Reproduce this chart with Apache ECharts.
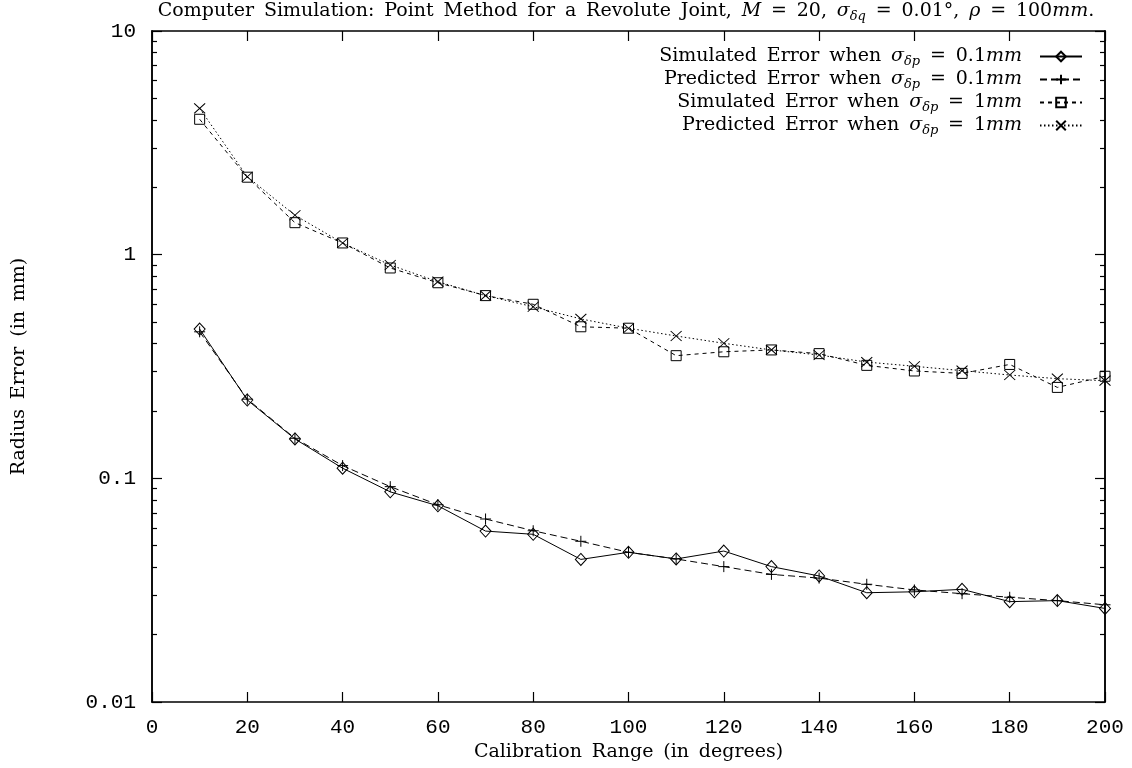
<!DOCTYPE html>
<html>
<head>
<meta charset="utf-8">
<script src="https://cdn.jsdelivr.net/npm/echarts@6/dist/echarts.min.js"></script>
<style>
  html, body { margin: 0; padding: 0; background: #fff; }
  #chart { width: 1132px; height: 768px; }
</style>
</head>
<body>
<div id="chart"></div>
<script>
// ---- data ----
const calibrationRange = [10, 20, 30, 40, 50, 60, 70, 80, 90, 100, 110, 120, 130, 140, 150, 160, 170, 180, 190, 200];
const simulated01 = [0.465, 0.224, 0.150, 0.111, 0.087, 0.0754, 0.0581, 0.0562, 0.0434, 0.0467, 0.0436, 0.0473, 0.0403, 0.0366, 0.0308, 0.0311, 0.0319, 0.0281, 0.0284, 0.0262];
const predicted01 = [0.452, 0.226, 0.151, 0.114, 0.0918, 0.0762, 0.0658, 0.0583, 0.0523, 0.0467, 0.0436, 0.0403, 0.0372, 0.0358, 0.0336, 0.0317, 0.0305, 0.0294, 0.0284, 0.0272];
const simulated1 = [4.03, 2.22, 1.39, 1.128, 0.872, 0.749, 0.656, 0.600, 0.476, 0.469, 0.3535, 0.368, 0.375, 0.361, 0.320, 0.302, 0.2946, 0.323, 0.255, 0.286];
const predicted1 = [4.51, 2.23, 1.50, 1.128, 0.899, 0.757, 0.656, 0.585, 0.516, 0.469, 0.433, 0.4016, 0.375, 0.356, 0.331, 0.317, 0.303, 0.2897, 0.279, 0.2732];
const yMajorTicks = [0.01, 0.1, 1, 10];
const yTickLabels = ['0.01', '0.1', '1', '10'];
const yMinorTicks = [0.02,0.03,0.04,0.05,0.06,0.07,0.08,0.09,0.2,0.3,0.4,0.5,0.6,0.7,0.8,0.9,2,3,4,5,6,7,8,9];
const seriesNames = [
  'Simulated Error when σδp = 0.1mm',
  'Predicted Error when σδp = 0.1mm',
  'Simulated Error when σδp = 1mm',
  'Predicted Error when σδp = 1mm'
];
const S = '\u00a0\u2009';
const legendRich = [
  '{n|Simulated' + S + 'Error' + S + 'when' + S + '}{i|σ}{s|δp}{n|' + S + '=' + S + '0.1}{i|mm}{g|}',
  '{n|Predicted' + S + 'Error' + S + 'when' + S + '}{i|σ}{s|δp}{n|' + S + '=' + S + '0.1}{i|mm}{g|}',
  '{n|Simulated' + S + 'Error' + S + 'when' + S + '}{i|σ}{s|δp}{n|' + S + '=' + S + '1}{i|mm}{g|}',
  '{n|Predicted' + S + 'Error' + S + 'when' + S + '}{i|σ}{s|δp}{n|' + S + '=' + S + '1}{i|mm}{g|}'
];
const titleRich = '{n|Computer' + S + 'Simulation:' + S + 'Point' + S + 'Method' + S + 'for' + S + 'a' + S + 'Revolute' + S + 'Joint,' + S + '}{i|M}{n|' + S + '=' + S + '20,' + S + '}{i|σ}{s|δq}{n|' + S + '=' + S + '0.01°,' + S + '}{i|ρ}{n|' + S + '=' + S + '100}{i|mm}{n|.}';
const xAxisName = 'Calibration' + S + 'Range' + S + '(in' + S + 'degrees)';
const yAxisName = 'Radius' + S + 'Error' + S + '(in' + S + 'mm)';

// ---- styling ----
const SERIF = '"DejaVu Serif", "Liberation Serif", serif';
const MONO = '"Liberation Mono", "DejaVu Sans Mono", monospace';
const FS = 19;
const richStyles = {
  n: { fontFamily: SERIF, fontSize: FS, fontWeight: 'normal', color: '#000', lineHeight: 23 },
  i: { fontFamily: SERIF, fontSize: FS, fontWeight: 'normal', fontStyle: 'italic', color: '#000', lineHeight: 23 },
  s: { fontFamily: SERIF, fontSize: 13, fontWeight: 'normal', fontStyle: 'italic', color: '#000', lineHeight: 13, verticalAlign: 'bottom' },
  g: { width: 13, lineHeight: 23 }
};

const SYM = {
  diamond: 'path://M5,0L10,5L5,10L0,5Z',
  plus: 'path://M5,0L5,10M0,5L10,5',
  square: 'path://M0,0L10,0L10,10L0,10Z',
  cross: 'path://M0,0L10,10M10,0L0,10'
};

function mkSeries(name, vals, sym, size, dash) {
  return {
    name: name,
    type: 'line',
    data: calibrationRange.map((x, i) => [x, vals[i]]),
    symbol: sym,
    symbolSize: size,
    clip: false,
    xAxisIndex: 0,
    yAxisIndex: 0,
    lineStyle: { color: '#000', width: 1, type: dash },
    itemStyle: { color: 'rgba(0,0,0,0)', borderColor: '#000', borderWidth: 1 },
    emphasis: { disabled: true },
    animation: false
  };
}

const baseY = {
  type: 'log', logBase: 10, min: 0.01, max: 10,
  axisLine: { show: true, onZero: false, lineStyle: { color: '#000', width: 1.5 } },
  splitLine: { show: false },
  minorTick: { show: false }
};

const chart = echarts.init(document.getElementById('chart'), null, { renderer: 'canvas' });
chart.setOption({
  backgroundColor: '#fff',
  animation: false,
  title: {
    text: titleRich,
    left: 626, top: 0, textAlign: 'center', padding: 0,
    textStyle: { fontWeight: 'normal', rich: richStyles }
  },
  legend: {
    orient: 'vertical',
    right: 49, top: 47,
    align: 'right',
    padding: 0,
    itemWidth: 42, itemHeight: 12, itemGap: 2,
    data: seriesNames,
    formatter: name => legendRich[seriesNames.indexOf(name)],
    textStyle: { rich: richStyles },
    selectedMode: false
  },
  grid: { left: 152, right: 27, top: 31, bottom: 66, containLabel: false },
  xAxis: [
    {
      type: 'value', min: 0, max: 200, interval: 20, position: 'bottom',
      name: xAxisName, nameLocation: 'middle', nameGap: 40,
      nameTextStyle: { fontFamily: SERIF, fontSize: 19, color: '#000' },
      axisLine: { show: true, onZero: false, lineStyle: { color: '#000', width: 1.5 } },
      axisTick: { show: true, inside: true, length: 10, lineStyle: { color: '#000', width: 1.2 } },
      axisLabel: { fontFamily: MONO, fontSize: 21, color: '#000', margin: 15 },
      splitLine: { show: false }
    },
    {
      type: 'value', min: 0, max: 200, interval: 20, position: 'top',
      axisLine: { show: true, onZero: false, lineStyle: { color: '#000', width: 1.5 } },
      axisTick: { show: true, inside: true, length: 10, lineStyle: { color: '#000', width: 1.2 } },
      axisLabel: { show: false },
      splitLine: { show: false }
    }
  ],
  yAxis: [
    Object.assign({}, baseY, {
      position: 'left',
      name: yAxisName, nameLocation: 'middle', nameGap: 123, nameRotate: 90,
      nameTextStyle: { fontFamily: SERIF, fontSize: 19, color: '#000' },
      axisTick: { show: true, inside: true, length: 10, customValues: yMajorTicks, lineStyle: { color: '#000', width: 1.2 } },
      axisLabel: { show: true, fontFamily: MONO, fontSize: 21, color: '#000', margin: 16,
        customValues: yMajorTicks,
        formatter: v => { const k = yMajorTicks.findIndex(t => Math.abs(t - v) / t < 1e-6); return k >= 0 ? yTickLabels[k] : ''; } }
    }),
    Object.assign({}, baseY, {
      position: 'left',
      axisTick: { show: true, inside: true, length: 5, customValues: yMinorTicks, lineStyle: { color: '#000', width: 1.2 } },
      axisLabel: { show: false }
    }),
    Object.assign({}, baseY, {
      position: 'right',
      axisTick: { show: true, inside: true, length: 10, customValues: yMajorTicks, lineStyle: { color: '#000', width: 1.2 } },
      axisLabel: { show: false }
    }),
    Object.assign({}, baseY, {
      position: 'right',
      axisTick: { show: true, inside: true, length: 5, customValues: yMinorTicks, lineStyle: { color: '#000', width: 1.2 } },
      axisLabel: { show: false }
    })
  ],
  series: [
    mkSeries(seriesNames[0], simulated01, SYM.diamond, [11, 12], 'solid'),
    mkSeries(seriesNames[1], predicted01, SYM.plus, [11, 11], [7, 4]),
    mkSeries(seriesNames[2], simulated1, SYM.square, [10, 10], [4, 4]),
    mkSeries(seriesNames[3], predicted1, SYM.cross, [11, 10], [1.5, 2.5])
  ]
});
</script>
</body>
</html>
